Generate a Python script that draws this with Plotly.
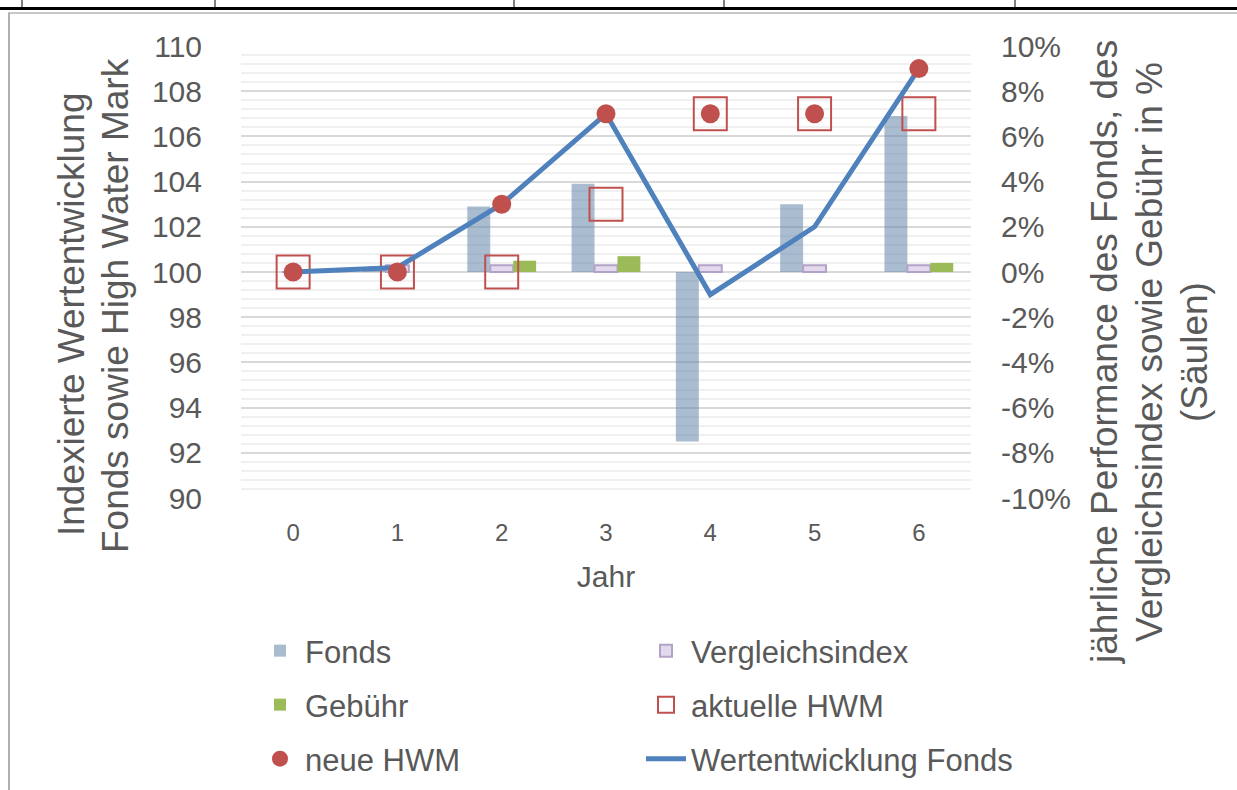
import plotly.graph_objects as go

# ---------------- data ----------------
years = [0, 1, 2, 3, 4, 5, 6]
fonds_pct = [0.0, 0.002, 0.029, 0.039, -0.075, 0.030, 0.069]
vergleich_pct = [0.0, 0.003, 0.003, 0.003, 0.003, 0.003, 0.003]
gebuehr_pct = [0.0, 0.0, 0.005, 0.007, 0.0, 0.0, 0.004]
aktuelle_hwm = [100, 100, 100, 103, 107, 107, 107]
neue_hwm = [100, 100, 103, 107, 107, 107, 109]
wertentwicklung = [100, 100.2, 103, 107, 99, 102, 109]

left_ticks = [90, 92, 94, 96, 98, 100, 102, 104, 106, 108, 110]
right_tick_vals = [-0.10, -0.08, -0.06, -0.04, -0.02, 0.0, 0.02, 0.04, 0.06, 0.08, 0.10]
right_tick_text = ["-10%", "-8%", "-6%", "-4%", "-2%", "0%", "2%", "4%", "6%", "8%", "10%"]

left_title = ["Indexierte Wertentwicklung", "Fonds sowie High Water Mark"]
right_title = ["jährliche Performance des Fonds, des", "Vergleichsindex sowie Gebühr in %", "(Säulen)"]

# ---------------- style ----------------
FONT = "Liberation Sans"
TXT = "#595959"
W, H = 1237, 790
L, R, T, B = 241, 971, 46, 498


def px(x):
    return (x - L) / (R - L)


def py(y):
    return (B - y) / (B - T)


# legend slots (pixels)
COL1, COL2 = 255, 641
ROW1, ROW2, ROW3 = 651, 705, 759

fig = go.Figure()

fig.add_trace(go.Bar(
    x=years, y=fonds_pct, name="Fonds", yaxis="y",
    marker=dict(color="rgba(100,135,170,0.55)", line=dict(width=0)),
    legend="legend",
))
fig.add_trace(go.Bar(
    x=years, y=vergleich_pct, name="Vergleichsindex", yaxis="y",
    marker=dict(color="#E2DAEC", line=dict(color="#B3A2C7", width=2)),
    legend="legend2",
))
fig.add_trace(go.Bar(
    x=years, y=gebuehr_pct, name="Gebühr", yaxis="y",
    marker=dict(color="#9BBB59", line=dict(width=0)),
    legend="legend3",
))
fig.add_trace(go.Scatter(
    x=years, y=aktuelle_hwm, name="aktuelle HWM", yaxis="y2", mode="markers",
    marker=dict(symbol="square-open", size=33, color="#C0504D", line=dict(width=2, color="#C0504D")),
    legend="legend4",
))
fig.add_trace(go.Scatter(
    x=years, y=wertentwicklung, name="Wertentwicklung Fonds", yaxis="y2", mode="lines",
    line=dict(color="#4F81BD", width=5),
    legend="legend6",
))
fig.add_trace(go.Scatter(
    x=years, y=neue_hwm, name="neue HWM", yaxis="y2", mode="markers",
    marker=dict(symbol="circle", size=19, color="#C0504D"),
    legend="legend5",
))

shapes = [
    # chart frame (light gray)
    dict(type="line", xref="paper", yref="paper", x0=px(8), x1=px(1237), y0=py(13), y1=py(13),
         line=dict(color="#C8C8C8", width=2)),
    dict(type="line", xref="paper", yref="paper", x0=px(9), x1=px(9), y0=py(13), y1=py(790),
         line=dict(color="#B0B0B0", width=2)),
    # table border above
    dict(type="line", xref="paper", yref="paper", x0=px(0), x1=px(1237), y0=py(8.5), y1=py(8.5),
         line=dict(color="#000000", width=3)),
]
for xv in [22, 215, 514, 724, 1015]:
    shapes.append(dict(type="line", xref="paper", yref="paper", x0=px(xv), x1=px(xv), y0=py(0), y1=py(8),
                       line=dict(color="#000000", width=1)))

annotations = []
for txt, xc, yc in zip(left_title, [71, 115], [314, 306]):
    annotations.append(dict(text=txt, xref="paper", yref="paper", x=px(xc), y=py(yc),
                            xanchor="center", yanchor="middle", textangle=-90, showarrow=False,
                            font=dict(family=FONT, size=37, color=TXT)))
for txt, xc in zip(right_title, [1104, 1149, 1194]):
    annotations.append(dict(text=txt, xref="paper", yref="paper", x=px(xc), y=py(352),
                            xanchor="center", yanchor="middle", textangle=-90, showarrow=False,
                            font=dict(family=FONT, size=37, color=TXT)))


def leg(col, row):
    return dict(
        x=px(col), y=py(row), orientation="v", xanchor="left", yanchor="middle",
        font=dict(family=FONT, size=31, color=TXT),
        bgcolor="rgba(0,0,0,0)", borderwidth=0, itemwidth=40,
    )


fig.update_layout(
    width=W, height=H,
    margin=dict(l=L, r=W - R, t=T, b=H - B, autoexpand=False),
    paper_bgcolor="white", plot_bgcolor="white",
    font=dict(family=FONT, color=TXT),
    showlegend=True,
    barmode="group", bargap=0.34, bargroupgap=0,
    shapes=shapes, annotations=annotations,
    xaxis=dict(
        range=[-0.5, 6.5], tickvals=years, ticktext=[str(v) for v in years],
        showgrid=False, zeroline=False, showline=False, ticks="",
        tickfont=dict(family=FONT, size=24, color=TXT), ticklabelstandoff=18,
        title=dict(text="Jahr", font=dict(family=FONT, size=30, color=TXT), standoff=20),
    ),
    yaxis=dict(
        side="right", range=[-0.10, 0.10], tickvals=right_tick_vals, ticktext=right_tick_text,
        showgrid=True, gridcolor="#D9D9D9", gridwidth=2,
        minor=dict(dtick=0.004, showgrid=True, gridcolor="#F0F0F0", gridwidth=2),
        zeroline=False, showline=False, ticks="",
        tickfont=dict(family=FONT, size=30, color=TXT), ticklabelstandoff=29,
    ),
    yaxis2=dict(
        side="left", overlaying="y", range=[90, 110], tickvals=left_ticks,
        showgrid=False, zeroline=False, showline=False, ticks="",
        tickfont=dict(family=FONT, size=30, color=TXT), ticklabelstandoff=38,
    ),
    legend=leg(COL1, ROW1),
    legend2=leg(COL2, ROW1),
    legend3=leg(COL1, ROW2),
    legend4=leg(COL2, ROW2),
    legend5=leg(COL1, ROW3),
    legend6=leg(COL2, ROW3),
)

fig.write_html(
    "out.html", config={"displayModeBar": False},
    post_script=(
        "document.documentElement.style.overflow='hidden';"
        "document.body.style.margin='0px';document.body.style.overflow='hidden';"
    ),
)
